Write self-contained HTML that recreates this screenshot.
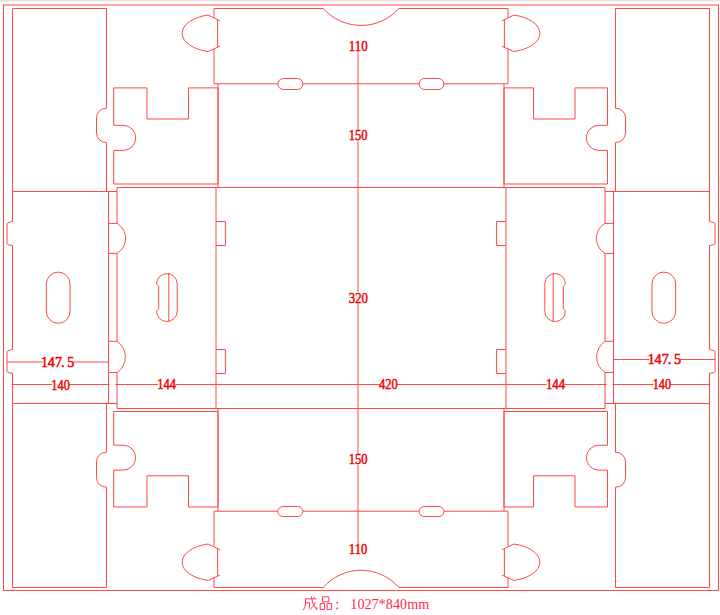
<!DOCTYPE html>
<html><head><meta charset="utf-8"><style>
html,body{margin:0;padding:0;background:#fff;width:720px;height:615px;overflow:hidden}
svg{display:block}
.cap{font-family:"Liberation Serif",serif;fill:#ff2a4a}
.cjk path{fill:none;stroke:#ff3355;stroke-width:1}
</style></head><body>
<svg width="720" height="615" viewBox="0 0 720 615">
<rect x="0" y="0" width="720" height="615" fill="#fff" stroke="none"/>
<rect x="0" y="0" width="720" height="1" fill="#e4e4e4"/><rect x="0" y="1" width="720" height="1" fill="#efefef"/>
<rect x="3.5" y="5" width="715" height="585.5" fill="none" stroke="#ff4848" stroke-width="1"/>
<g fill="none" stroke="#ff4848" stroke-width="1">
<path d="M12.5,8.5 L12.5,221.4 L7.7,222.9 L7.0,223.7 L7.0,243.8 L7.7,244.6 L12.5,245.6 L12.5,349.4 L7.7,350.9 L7.0,351.7 L7.0,371.6 L7.7,372.4 L12.5,373.4 L12.5,587.5"/>
<path d="M12.5,8.5 H106.5"/>
<path d="M12.5,587.5 H106.5"/>
<path d="M106.5,8.5 L106.5,108.3 A9.6,9.6 0 0 0 96.5,117.9 L96.5,132.9 A9.6,9.6 0 0 0 106.5,142.5 L106.5,191.5"/>
<path d="M106.5,403.5 L106.5,452.3 A9.6,9.6 0 0 0 96.5,461.9 L96.5,477.6 A9.6,9.6 0 0 0 106.5,487.2 L106.5,587.5"/>
<path d="M12.5,191.5 H117.0"/>
<path d="M12.5,403.5 H117.0"/>
<path d="M108.5,191.5 V403.5"/>
<path d="M46.35,283.95 A11.85,11.85 0 0 1 70.05,283.95 L70.05,311.45 A11.85,11.85 0 0 1 46.35,311.45 Z"/>
<path d="M117.0,187.5 L117.0,223.4 A17.4,17.4 0 0 1 117.0,253.4 L117.0,341.3 A18.7,18.7 0 0 1 117.0,372.5 L117.0,408.5"/>
<path d="M108.5,223.4 H117.0"/>
<path d="M108.5,253.4 H117.0"/>
<path d="M108.5,341.3 H117.0"/>
<path d="M108.5,372.5 H117.0"/>
<path d="M216.0,187.5 V408.5"/>
<path d="M216.0,221.5 H225.4 V245.5 H216.0"/>
<path d="M216.0,349.5 H225.4 V373.5 H216.0"/>
<path d="M177.2,283.5 A10.3,10.3 0 0 0 156.6,284.3 L158.7,286.1 L158.7,308.9 L156.6,310.9 A10.3,10.3 0 0 0 177.2,311.5 Z"/>
<path d="M168.8,273.2 V321.8"/>
<path d="M113.7,87.9 H147.0 V119.0 H188.5 V87.9 H218.0 V184.0 H113.7 V150.4 H123.2 A12.55,12.55 0 0 0 123.2,125.3 H113.7 Z"/>
<path d="M113.7,507.0 H147.0 V475.8 H188.5 V507.0 H218.0 V411.5 H113.7 V445.2 H123.2 A12.45,12.45 0 0 1 123.2,470.1 H113.7 Z"/>
<path d="M218.0,83.8 V187.5"/>
<path d="M218.0,408.5 V511.2"/>
<path d="M220.0,20.8 L208.1,15.1 A34.17,18.75 0 0 0 208.1,51.5 L220.0,46.2"/>
<path d="M217.6,19.7 V47.4"/>
<path d="M220.0,549.7 L208.1,544.0 A34.17,18.75 0 0 0 208.1,580.4 L220.0,575.1"/>
<path d="M217.6,548.6 V576.3"/>
<path d="M214.0,8.5 V18.0"/>
<path d="M214.0,49.0 V83.8"/>
<path d="M214.0,511.2 V546.3"/>
<path d="M214.0,577.3 V587.5"/>
<path d="M709.5,8.5 L709.5,221.4 L714.3,222.9 L715.0,223.7 L715.0,243.8 L714.3,244.6 L709.5,245.6 L709.5,349.4 L714.3,350.9 L715.0,351.7 L715.0,371.6 L714.3,372.4 L709.5,373.4 L709.5,587.5"/>
<path d="M709.5,8.5 H615.5"/>
<path d="M709.5,587.5 H615.5"/>
<path d="M615.5,8.5 L615.5,108.3 A9.6,9.6 0 0 1 625.5,117.9 L625.5,132.9 A9.6,9.6 0 0 1 615.5,142.5 L615.5,191.5"/>
<path d="M615.5,403.5 L615.5,452.3 A9.6,9.6 0 0 1 625.5,461.9 L625.5,477.6 A9.6,9.6 0 0 1 615.5,487.2 L615.5,587.5"/>
<path d="M709.5,191.5 H605.0"/>
<path d="M709.5,403.5 H605.0"/>
<path d="M613.5,191.5 V403.5"/>
<path d="M675.65,283.95 A11.85,11.85 0 0 0 651.95,283.95 L651.95,311.45 A11.85,11.85 0 0 0 675.65,311.45 Z"/>
<path d="M605.0,187.5 L605.0,223.4 A17.4,17.4 0 0 0 605.0,253.4 L605.0,341.3 A18.7,18.7 0 0 0 605.0,372.5 L605.0,408.5"/>
<path d="M613.5,223.4 H605.0"/>
<path d="M613.5,253.4 H605.0"/>
<path d="M613.5,341.3 H605.0"/>
<path d="M613.5,372.5 H605.0"/>
<path d="M506.0,187.5 V408.5"/>
<path d="M506.0,221.5 H496.6 V245.5 H506.0"/>
<path d="M506.0,349.5 H496.6 V373.5 H506.0"/>
<path d="M544.8,283.5 A10.3,10.3 0 0 1 565.4,284.3 L563.3,286.1 L563.3,308.9 L565.4,310.9 A10.3,10.3 0 0 1 544.8,311.5 Z"/>
<path d="M553.2,273.2 V321.8"/>
<path d="M607.5,87.9 H575.0 V119.0 H533.5 V87.9 H504.0 V184.0 H607.5 V150.4 H598.8 A12.55,12.55 0 0 1 598.8,125.3 H607.5 Z"/>
<path d="M607.5,507.0 H575.0 V475.8 H533.5 V507.0 H504.0 V411.5 H607.5 V445.2 H598.8 A12.45,12.45 0 0 0 598.8,470.1 H607.5 Z"/>
<path d="M504.0,83.8 V187.5"/>
<path d="M504.0,408.5 V511.2"/>
<path d="M502.0,20.8 L513.9,15.1 A34.17,18.75 0 0 1 513.9,51.5 L502.0,46.2"/>
<path d="M504.4,19.7 V47.4"/>
<path d="M502.0,549.7 L513.9,544.0 A34.17,18.75 0 0 1 513.9,580.4 L502.0,575.1"/>
<path d="M504.4,548.6 V576.3"/>
<path d="M508.0,8.5 V18.0"/>
<path d="M508.0,49.0 V83.8"/>
<path d="M508.0,511.2 V546.3"/>
<path d="M508.0,577.3 V587.5"/>
<path d="M214.0,8.5 H323.2 A50.8,50.8 0 0 0 398.9,8.5 H508.0"/>
<path d="M214.0,587.5 H323.2 A50.2,50.2 0 0 1 398.9,587.5 H508.0"/>
<path d="M214.0,83.8 H277.8"/>
<path d="M302.9,83.8 H419.1"/>
<path d="M443.9,83.8 H508.0"/>
<path d="M283.3,78.5 H297.4 A5.5,5.5 0 0 1 297.4,89.5 H283.3 A5.5,5.5 0 0 1 283.3,78.5 Z"/>
<path d="M424.6,78.5 H438.4 A5.5,5.5 0 0 1 438.4,89.5 H424.6 A5.5,5.5 0 0 1 424.6,78.5 Z"/>
<path d="M214.0,511.2 H277.8"/>
<path d="M302.9,511.2 H419.1"/>
<path d="M443.9,511.2 H508.0"/>
<path d="M282.8,506.5 H297.9 A5.0,5.0 0 0 1 297.9,516.5 H282.8 A5.0,5.0 0 0 1 282.8,506.5 Z"/>
<path d="M424.1,506.5 H438.9 A5.0,5.0 0 0 1 438.9,516.5 H424.1 A5.0,5.0 0 0 1 424.1,506.5 Z"/>
<path d="M117.0,187.5 H605.0"/>
<path d="M117.0,408.5 H605.0"/>
<path d="M358,51 V544.8"/>
<path d="M11.7,384.5 H109.5"/>
<path d="M115.3,384.5 H606.7"/>
<path d="M612.5,384.5 H710.3"/>
<path d="M7,362 H108.5"/>
<path d="M613,359.5 H715"/>
</g>
<g font-family="Liberation Serif, serif" font-weight="normal" fill="#f00000" stroke="#f00000" stroke-width="0.5">
<rect x="349.4" y="40.5" width="17.6" height="11.0" fill="#fff" stroke="none"/>
<text x="348.8" y="51.0" font-size="14.81" textLength="18.80" lengthAdjust="spacingAndGlyphs">110</text>
<rect x="349.4" y="130.1" width="17.6" height="10.6" fill="#fff" stroke="none"/>
<text x="348.8" y="140.2" font-size="14.22" textLength="18.80" lengthAdjust="spacingAndGlyphs">150</text>
<rect x="349.4" y="291.9" width="18" height="11.2" fill="#fff" stroke="none"/>
<text x="348.8" y="302.6" font-size="15.11" textLength="19.20" lengthAdjust="spacingAndGlyphs">320</text>
<rect x="349.4" y="453.9" width="17.6" height="10.8" fill="#fff" stroke="none"/>
<text x="348.8" y="464.2" font-size="14.52" textLength="18.80" lengthAdjust="spacingAndGlyphs">150</text>
<rect x="349.4" y="544.3" width="17.4" height="10.4" fill="#fff" stroke="none"/>
<text x="348.8" y="554.2" font-size="13.93" textLength="18.60" lengthAdjust="spacingAndGlyphs">110</text>
<rect x="379.6" y="378.8" width="17.6" height="10.7" fill="#fff" stroke="none"/>
<text x="379.0" y="389.0" font-size="14.37" textLength="18.80" lengthAdjust="spacingAndGlyphs">420</text>
<rect x="157.8" y="379.2" width="17.6" height="10.3" fill="#fff" stroke="none"/>
<text x="157.2" y="389.0" font-size="13.78" textLength="18.80" lengthAdjust="spacingAndGlyphs">144</text>
<rect x="546.6" y="379.0" width="17.8" height="10.5" fill="#fff" stroke="none"/>
<text x="546.0" y="389.0" font-size="14.07" textLength="19.00" lengthAdjust="spacingAndGlyphs">144</text>
<rect x="51.9" y="379.5" width="17.3" height="10.5" fill="#fff" stroke="none"/>
<text x="51.3" y="389.5" font-size="14.07" textLength="18.50" lengthAdjust="spacingAndGlyphs">140</text>
<rect x="653.3" y="379.1" width="17.1" height="10.6" fill="#fff" stroke="none"/>
<text x="652.7" y="389.2" font-size="14.22" textLength="18.30" lengthAdjust="spacingAndGlyphs">140</text>
<rect x="42.6" y="356.5" width="30.6" height="10.5" fill="#fff" stroke="none"/>
<text x="44.45" y="366.5" font-size="14.07" text-anchor="middle">1</text>
<text x="51.35" y="366.5" font-size="14.07" text-anchor="middle">4</text>
<text x="58.60" y="366.5" font-size="14.07" text-anchor="middle">7</text>
<text x="62.80" y="366.5" font-size="14.07" text-anchor="middle">.</text>
<text x="70.80" y="366.5" font-size="14.07" text-anchor="middle">5</text>
<rect x="649.3" y="354.0" width="30.4" height="10.5" fill="#fff" stroke="none"/>
<text x="651.15" y="364.0" font-size="14.07" text-anchor="middle">1</text>
<text x="658.05" y="364.0" font-size="14.07" text-anchor="middle">4</text>
<text x="665.30" y="364.0" font-size="14.07" text-anchor="middle">7</text>
<text x="669.50" y="364.0" font-size="14.07" text-anchor="middle">.</text>
<text x="677.50" y="364.0" font-size="14.07" text-anchor="middle">5</text>
</g>
<text x="350.3" y="609" font-size="14.2" textLength="79" lengthAdjust="spacingAndGlyphs" class="cap">1027*840mm</text>

<g class="cjk">
<path d="M305.5,598.5 V604 Q305.2,608 303.2,610.2"/>
<path d="M305.5,598.8 H316.5"/>
<path d="M305.8,602.8 H309.5 V607.5 L308.4,608.3"/>
<path d="M311.3,596.5 Q311.8,604 316.8,609.8 L317,607.2"/>
<path d="M315.2,602.3 Q313.8,606.5 309.8,609.8"/>
<path d="M313.6,596.7 L314.8,597.9"/>
<path d="M322.5,596.8 H328.8 V601.8 H322.5 Z"/>
<path d="M320.2,603.4 H324.6 V609.4 H320.2 Z"/>
<path d="M327.1,603.4 H331.6 V609.4 H327.1 Z"/>
</g>
<circle cx="337.2" cy="602.7" r="0.9" fill="#ff2a4a"/>
<circle cx="337.2" cy="608.4" r="0.9" fill="#ff2a4a"/>

</svg>
</body></html>
